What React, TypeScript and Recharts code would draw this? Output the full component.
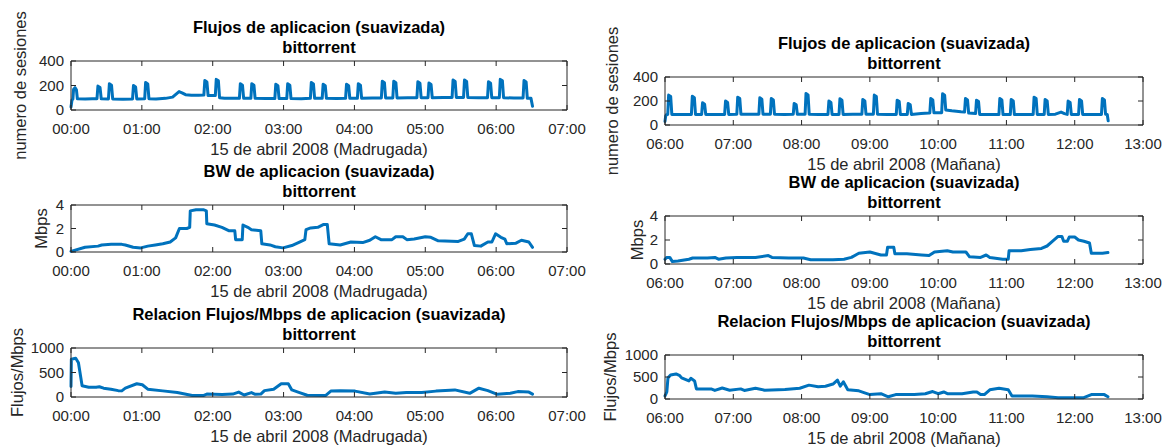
import { LineChart, Line, XAxis, YAxis, Label } from 'recharts'

type Pt = [number, number]

// minutes since midnight
const MADRUGADA_TICKS = [0, 60, 120, 180, 240, 300, 360, 420]
const MANANA_TICKS = [360, 420, 480, 540, 600, 660, 720, 780]
const FLOW_TICKS = [0, 200, 400]
const BW_TICKS = [0, 2, 4]
const RATIO_TICKS = [0, 500, 1000]

const TITLE_FLOWS = 'Flujos de aplicacion (suavizada)'
const TITLE_BW = 'BW de aplicacion (suavizada)'
const TITLE_RATIO = 'Relacion Flujos/Mbps de aplicacion (suavizada)'
const SUBTITLE = 'bittorrent'
const XLABEL_LEFT = '15 de abril 2008 (Madrugada)'
const XLABEL_RIGHT = '15 de abril 2008 (Mañana)'

// sesiones, 00:00 - 06:30
const flowsMadrugada: Pt[] = [
  [0, 25], [0.8, 80], [1.6, 90], [2.2, 170], [3.4, 182], [4.6, 165], [5.4, 92], [12, 90], [18, 92],
  [22, 92], [22.8, 195], [24.6, 183], [25.6, 92],
  [31.7, 90], [32.5, 215], [34.3, 203], [35.3, 90], [44, 88],
  [52.1, 90], [52.9, 200], [54.7, 188], [55.7, 90],
  [62.4, 92], [63.2, 225], [65, 213], [66, 92],
  [72, 90], [80, 95], [86, 105], [89, 130], [91.5, 150], [94, 140], [97, 125], [102, 120], [108, 120],
  [112.5, 122], [113.3, 240], [115.1, 228], [116.1, 118],
  [122.2, 118], [123, 250], [124.8, 238], [125.8, 100], [130, 95], [138, 95],
  [142.6, 95], [143.4, 215], [145.2, 203], [146.2, 95],
  [152.3, 95], [153.1, 215], [154.9, 203], [155.9, 95], [165, 93],
  [172.6, 93], [173.4, 210], [175.2, 198], [176.2, 93],
  [182.7, 93], [183.5, 215], [185.3, 203], [186.3, 93], [195, 92],
  [202.7, 95], [203.5, 225], [205.3, 213], [206.3, 95],
  [212.7, 95], [213.5, 210], [215.3, 198], [216.3, 95], [225, 93],
  [232.5, 95], [233.3, 210], [235.1, 198], [236.1, 95],
  [242.5, 95], [243.3, 215], [245.1, 203], [246.1, 95], [255, 97],
  [262.8, 98], [263.6, 235], [265.4, 223], [266.4, 98],
  [272.5, 98], [273.3, 235], [275.1, 223], [276.1, 98], [285, 100],
  [292.9, 100], [293.7, 230], [295.5, 218], [296.5, 100],
  [302.3, 100], [303.1, 220], [304.9, 208], [305.9, 100], [315, 102],
  [322.7, 103], [323.5, 245], [325.3, 233], [326.3, 103],
  [332.4, 103], [333.2, 245], [335, 233], [336, 103], [345, 100],
  [352.7, 100], [353.5, 230], [355.3, 218], [356.3, 100],
  [362.7, 100], [363.5, 250], [365.3, 238], [366.3, 100], [375, 98],
  [382.8, 98], [383.6, 240], [385.4, 228], [386.4, 95], [389.5, 95], [390.8, 30],
]

// Mbps, 00:00 - 06:30
const bwMadrugada: Pt[] = [
  [0, 0.05], [11.9, 0.4], [22.9, 0.5], [26, 0.6], [34, 0.65], [43, 0.65], [46, 0.6], [52.6, 0.4],
  [59, 0.35], [65, 0.5], [71.4, 0.6], [77.7, 0.7], [84, 0.85], [88.6, 1.2], [91.8, 2.0], [98, 2.0],
  [100.5, 2.1], [101, 3.5], [105.9, 3.6], [112, 3.6], [114.6, 3.5], [115, 2.4], [121.5, 2.3],
  [127.8, 2.1], [134, 1.8], [138.7, 1.8], [139.4, 1.05], [145, 1.05], [145.6, 2.3], [149.7, 2.1],
  [152.8, 1.9], [160.7, 1.8], [161.6, 0.7], [168.5, 0.6], [173, 0.45], [179.5, 0.35], [187, 0.55],
  [193.5, 0.85], [198, 1.05], [199, 1.9], [203, 2.05], [209, 2.1], [214, 2.35], [217, 2.35],
  [218.6, 0.7], [228, 0.6], [237, 0.85], [247, 0.8], [253, 1.0], [257.7, 1.3], [262.5, 1.05],
  [271.8, 1.05], [275, 1.3], [281, 1.3], [284.4, 1.05], [290.6, 1.1], [300, 1.3], [304.7, 1.25],
  [311, 0.95], [328, 0.9], [333, 1.1], [336, 1.55], [339, 1.55], [341.6, 0.55], [347, 0.5],
  [353, 0.85], [356.4, 0.85], [359.5, 1.55], [364, 1.25], [367.4, 1.1], [369, 0.7], [376.8, 0.75],
  [381.4, 1.0], [387.7, 0.85], [390.8, 0.4],
]

// flujos / Mbps, 00:00 - 06:30
const ratioMadrugada: Pt[] = [
  [0, 215], [0.3, 770], [4, 790], [6.3, 700], [9.4, 230], [15, 200], [21.3, 200], [24, 210],
  [27.6, 180], [33.8, 160], [40, 130], [43, 125], [46, 180], [55.7, 270], [60.4, 250], [65, 160],
  [77.7, 125], [90, 90], [102.7, 30], [112, 30], [115, 60], [128, 50], [137, 60], [142, 100],
  [146.6, 40], [152.8, 90], [156, 55], [160.7, 60], [163.8, 130], [171.6, 160], [178, 270],
  [184, 270], [187, 145], [193.5, 90], [200, 35], [215.5, 30], [220, 120], [228, 130], [240.5, 120],
  [253, 60], [265.6, 100], [275, 75], [284, 90], [297, 90], [309, 120], [325, 145], [337.6, 75],
  [345.4, 180], [353, 130], [361, 55], [372, 75], [378.3, 110], [387.7, 100], [390.8, 60],
]

// sesiones, 06:00 - 12:30
const flowsManana: Pt[] = [
  [360, 30], [360.6, 75], [361.4, 88],
  [362.4, 88], [363.2, 249], [365, 237], [366, 88], [375, 88],
  [383.2, 88], [384, 240], [385.8, 228], [386.8, 88],
  [392.2, 88], [393, 185], [394.8, 173], [395.8, 88], [405, 88],
  [412.4, 88], [413.2, 200], [415, 188], [416, 88],
  [423.1, 90], [423.9, 232], [425.7, 220], [426.7, 90], [435, 90],
  [442.5, 90], [443.3, 227], [445.1, 215], [446.1, 90],
  [452.6, 90], [453.4, 221], [455.2, 209], [456.2, 90], [465, 88],
  [472.7, 90], [473.5, 180], [475.3, 168], [476.3, 90],
  [483.1, 90], [483.9, 263], [485.7, 251], [486.7, 90], [495, 88],
  [503.2, 88], [504, 200], [505.8, 188], [506.8, 88],
  [512.9, 88], [513.7, 218], [515.5, 206], [516.5, 88], [525, 90],
  [533, 90], [533.8, 213], [535.6, 201], [536.6, 90],
  [543.1, 90], [543.9, 249], [545.7, 237], [546.7, 90], [555, 88],
  [563.2, 88], [564, 207], [565.8, 195], [566.8, 88],
  [572.9, 88], [573.7, 180], [575.5, 168], [576.5, 88], [585, 95], [592, 100],
  [592.7, 100], [593.5, 221], [595.3, 209], [596.3, 102], [600, 102],
  [603.1, 102], [603.9, 260], [605.7, 248], [606.7, 125], [612, 118], [620, 110],
  [623.2, 108], [624, 221], [625.8, 209], [626.8, 100],
  [632.9, 95], [633.7, 207], [635.5, 195], [636.5, 88], [645, 87],
  [653.4, 87], [654.2, 221], [656, 209], [657, 87],
  [663.4, 87], [664.2, 213], [666, 201], [667, 87], [675, 87],
  [683.5, 88], [684.3, 232], [686.1, 220], [687.1, 88],
  [693.2, 88], [694, 213], [695.8, 201], [696.8, 88], [703, 90], [708, 108], [711, 95],
  [713.4, 88], [714.2, 199], [716, 187], [717, 88],
  [723.4, 88], [724.2, 213], [726, 201], [727, 88], [736, 88],
  [743.5, 88], [744.3, 221], [746.1, 209], [747.1, 90], [748.6, 88], [749.4, 35],
]

// Mbps, 06:00 - 12:30
const bwManana: Pt[] = [
  [360, 0.4], [361.6, 0.55], [364.2, 0.55], [366.5, 0.2], [371.4, 0.25], [381, 0.4], [384.3, 0.5],
  [397.3, 0.5], [403.8, 0.55], [407, 0.4], [413.5, 0.5], [423.2, 0.55], [439.5, 0.55], [450.8, 0.7],
  [454, 0.55], [468.7, 0.5], [481.6, 0.5], [488, 0.35], [507.6, 0.35], [517.3, 0.4], [523.8, 0.55],
  [530.3, 0.9], [540, 1.0], [549.7, 0.75], [554.6, 0.75], [555.6, 1.4], [561, 1.4], [562, 0.85],
  [572.5, 0.85], [585.4, 0.75], [592, 0.7], [596.8, 1.0], [608, 1.1], [613, 1.0], [624.4, 1.0],
  [627.6, 0.6], [637.3, 0.55], [642.2, 0.75], [645.4, 0.55], [656.8, 0.4], [661.6, 0.4],
  [662.3, 1.1], [673, 1.1], [681, 1.2], [690.8, 1.3], [695.7, 1.5], [700.6, 1.9], [705.4, 2.3],
  [708.7, 2.3], [710.3, 1.9], [713.6, 1.9], [715.2, 2.25], [720, 2.25], [723.3, 2.0], [728.1, 1.9],
  [733, 1.75], [734.6, 0.9], [744.4, 0.9], [749.2, 0.95],
]

// flujos / Mbps, 06:00 - 12:30
const ratioManana: Pt[] = [
  [360, 70], [361.6, 160], [362.6, 480], [364.9, 545], [369.7, 570], [373, 530], [374.6, 480],
  [377.8, 445], [381, 410], [382.7, 470], [386, 410], [387.6, 230], [400.5, 230], [403.8, 195],
  [410.3, 250], [416.8, 200], [426.5, 230], [429.7, 195], [439.5, 245], [447.6, 200], [465.4, 215],
  [478.4, 245], [486.5, 315], [494.6, 280], [501, 290], [507.6, 340], [511.5, 430], [514, 290],
  [516.7, 390], [520.6, 210], [530.3, 185], [540, 100], [549.7, 120], [556.2, 50], [562.7, 100],
  [579, 100], [588.7, 120], [595.2, 170], [600, 120], [604.9, 160], [608.1, 120], [621, 120],
  [630.8, 160], [634, 160], [637.3, 100], [640.6, 100], [645.4, 210], [653.5, 245], [661.6, 210],
  [664.9, 70], [682.7, 70], [695.7, 50], [705.4, 30], [728, 30], [734.6, 100], [746, 100],
  [749.2, 50],
]

const W = 1168
const H = 448
const FONT = '"Liberation Sans", Arial, Helvetica, sans-serif'
const AX = '#262626'
const BLUE = '#0072BD'
// room reserved for each axis (margins are reduced by the same amount)
const AX_H = 20
const AX_W = 20

const hhmm = (m: number) => `${String(Math.floor(m / 60)).padStart(2, '0')}:00`
const blank = () => ''

type Box = { x: number; y: number; w: number; h: number }

type PanelProps = {
  data: Pt[]
  box: Box
  xTicks: number[]
  yTicks: number[]
  title: string
  xLabel: string
  yLabel: string
  yLabelX: number
}

const Panel = ({ data, box, xTicks, yTicks, title, xLabel, yLabel, yLabelX }: PanelProps) => {
  const rows = data.map(([t, v]) => ({ t, v }))
  const xDomain = [xTicks[0], xTicks[xTicks.length - 1]]
  const yDomain = [yTicks[0], yTicks[yTicks.length - 1]]
  const cx = box.x + box.w / 2
  const cy = box.y + box.h / 2
  const axisStyle = { stroke: AX, strokeWidth: 1 }

  return (
    <div style={{ position: 'absolute', left: 0, top: 0 }}>
      <LineChart
        width={W}
        height={H}
        data={rows}
        margin={{
          left: box.x - AX_W,
          top: box.y - AX_H,
          right: W - box.x - box.w - AX_W,
          bottom: H - box.y - box.h - AX_H,
        }}
      >
        <XAxis
          xAxisId='b'
          dataKey='t'
          type='number'
          domain={xDomain}
          ticks={xTicks}
          interval={0}
          tickFormatter={hhmm}
          height={AX_H}
          tickSize={-5}
          tickMargin={18}
          axisLine={axisStyle}
          tickLine={axisStyle}
          tick={{ fill: AX, fontSize: 15, fontFamily: FONT }}
        >
          <Label
            content={() => (
              <text x={cx} y={box.y + box.h + 45} textAnchor='middle' fill={AX} fontSize={16.5} fontFamily={FONT}>
                {xLabel}
              </text>
            )}
          />
        </XAxis>
        <XAxis
          xAxisId='t'
          dataKey='t'
          orientation='top'
          type='number'
          domain={xDomain}
          ticks={xTicks}
          interval={0}
          tickFormatter={blank}
          height={AX_H}
          tickSize={-5}
          axisLine={axisStyle}
          tickLine={axisStyle}
        >
          <Label
            content={() => (
              <g fontFamily={FONT} fontSize={16.5} fontWeight='bold' fill='#000' textAnchor='middle'>
                <text x={cx} y={box.y - 28}>{title}</text>
                <text x={cx} y={box.y - 8}>{SUBTITLE}</text>
              </g>
            )}
          />
        </XAxis>
        <YAxis
          yAxisId='l'
          type='number'
          domain={yDomain}
          ticks={yTicks}
          interval={0}
          width={AX_W}
          tickSize={-5}
          tickMargin={12}
          axisLine={axisStyle}
          tickLine={axisStyle}
          tick={{ fill: AX, fontSize: 15, fontFamily: FONT }}
        >
          <Label
            content={() => (
              <text
                x={yLabelX}
                y={cy}
                transform={`rotate(-90 ${yLabelX} ${cy})`}
                textAnchor='middle'
                fill={AX}
                fontSize={16.5}
                fontFamily={FONT}
              >
                {yLabel}
              </text>
            )}
          />
        </YAxis>
        <YAxis
          yAxisId='r'
          orientation='right'
          type='number'
          domain={yDomain}
          ticks={yTicks}
          interval={0}
          width={AX_W}
          tickSize={-5}
          tickFormatter={blank}
          axisLine={axisStyle}
          tickLine={axisStyle}
        />
        <Line
          xAxisId='b'
          yAxisId='l'
          dataKey='v'
          type='linear'
          stroke={BLUE}
          strokeWidth={3}
          strokeLinejoin='round'
          strokeLinecap='round'
          dot={false}
          activeDot={false}
          isAnimationActive={false}
        />
        {/* invisible twin so the top and right axes share the same scales */}
        <Line
          xAxisId='t'
          yAxisId='r'
          dataKey='v'
          stroke='none'
          dot={false}
          activeDot={false}
          legendType='none'
          isAnimationActive={false}
        />
      </LineChart>
    </div>
  )
}

const App = () => (
  <div style={{ position: 'absolute', left: 0, top: 0, width: W, height: H, background: '#fff' }}>
    <Panel data={flowsMadrugada} box={{ x: 71, y: 61, w: 496, h: 49 }} xTicks={MADRUGADA_TICKS} yTicks={FLOW_TICKS}
      title={TITLE_FLOWS} xLabel={XLABEL_LEFT} yLabel='numero de sesiones' yLabelX={26} />
    <Panel data={bwMadrugada} box={{ x: 71, y: 205, w: 496, h: 47 }} xTicks={MADRUGADA_TICKS} yTicks={BW_TICKS}
      title={TITLE_BW} xLabel={XLABEL_LEFT} yLabel='Mbps' yLabelX={47} />
    <Panel data={ratioMadrugada} box={{ x: 71, y: 348, w: 496, h: 49 }} xTicks={MADRUGADA_TICKS} yTicks={RATIO_TICKS}
      title={TITLE_RATIO} xLabel={XLABEL_LEFT} yLabel='Flujos/Mbps' yLabelX={23} />
    <Panel data={flowsManana} box={{ x: 665, y: 77, w: 478, h: 48 }} xTicks={MANANA_TICKS} yTicks={FLOW_TICKS}
      title={TITLE_FLOWS} xLabel={XLABEL_RIGHT} yLabel='numero de sesiones' yLabelX={618} />
    <Panel data={bwManana} box={{ x: 665, y: 216, w: 478, h: 48 }} xTicks={MANANA_TICKS} yTicks={BW_TICKS}
      title={TITLE_BW} xLabel={XLABEL_RIGHT} yLabel='Mbps' yLabelX={643} />
    <Panel data={ratioManana} box={{ x: 665, y: 355, w: 478, h: 44 }} xTicks={MANANA_TICKS} yTicks={RATIO_TICKS}
      title={TITLE_RATIO} xLabel={XLABEL_RIGHT} yLabel='Flujos/Mbps' yLabelX={616} />
  </div>
)

export default App
